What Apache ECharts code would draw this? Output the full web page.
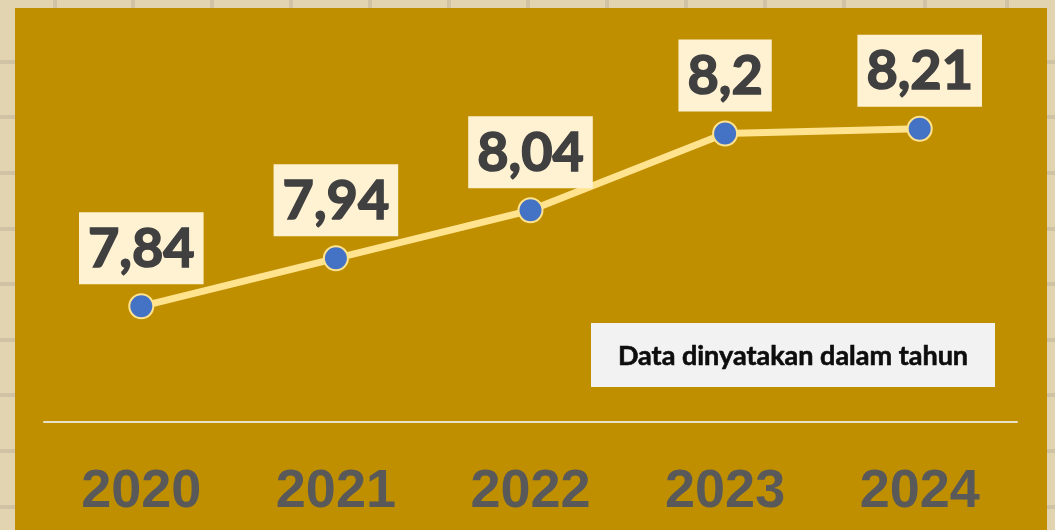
<!DOCTYPE html>
<html><head><meta charset="utf-8">
<script src="https://cdn.jsdelivr.net/npm/echarts@6/dist/echarts.min.js"></script>
<style>html,body{margin:0;padding:0;}#c{width:1055px;height:530px;}</style>
</head><body><div id="c"></div>
<script>
const years = ['2020', '2021', '2022', '2023', '2024'];
const values = [7.84, 7.94, 8.04, 8.2, 8.21];
const valueLabels = ['7,84', '7,94', '8,04', '8,2', '8,21'];
const noteText = 'Data dinyatakan dalam tahun';

const chart = echarts.init(document.getElementById('c'));
const grout = [];
[62, 117, 173, 229, 284, 340, 395, 451, 507].forEach(y => {
  grout.push({type:'rect', shape:{x:0,y:y-2,width:1055,height:4}, style:{fill:'#d0c3a5'}, z:-9});
});
[55, 133, 212, 291, 370, 449, 528, 607, 686, 765, 844, 925, 1007].forEach(x => {
  grout.push({type:'rect', shape:{x:x-2,y:0,width:4,height:8}, style:{fill:'#d0c3a5'}, z:-9});
});
chart.setOption({
  backgroundColor: '#e3d4b1',
  animation: false,
  graphic: [
    ...grout,
    {type:'rect', shape:{x:15,y:8,width:1032,height:530}, style:{fill:'#bf8f00'}, z:-8},
    {type:'group', left:591, top:323, z:10, children:[
      {type:'rect', shape:{x:0,y:0,width:404,height:64}, style:{fill:'#f2f2f2'}},
      {type:'text', x:202, y:33, style:{text: noteText, fill:'#0d0d0d', font:'bold 27px Lato', align:'center', verticalAlign:'middle', stroke:'#0d0d0d', lineWidth:0.6}}
    ]}
  ],
  grid: {left: 44, right: 38, top: 85.5, bottom: 108.5},
  xAxis: {
    type: 'category', data: years, boundaryGap: true,
    axisLine: {lineStyle: {color: '#e9e0c8', width: 2}},
    axisTick: {show: false},
    axisLabel: {color: '#595959', fontFamily: 'Liberation Sans', fontWeight: 'bold', fontSize: 54, margin: 44}
  },
  yAxis: {
    type: 'value', min: 7.6, max: 8.3, show: false, splitLine: {show: false}
  },
  series: [{
    type: 'line', data: values,
    lineStyle: {color: '#ffe38f', width: 7},
    symbol: 'circle', symbolSize: 24,
    itemStyle: {color: '#4472c4', borderColor: '#ffe38f', borderWidth: 2},
    label: {
      show: true, position: 'top', distance: 9,
      formatter: p => valueLabels[p.dataIndex],
      color: '#404040', fontFamily: 'Lato', fontWeight: 'bold', fontSize: 54,
      textBorderColor: '#404040', textBorderWidth: 1.6,
      lineHeight: 54, backgroundColor: '#fff2d3', padding: [10, 9, 8, 9]
    }
  }]
});
</script></body></html>
